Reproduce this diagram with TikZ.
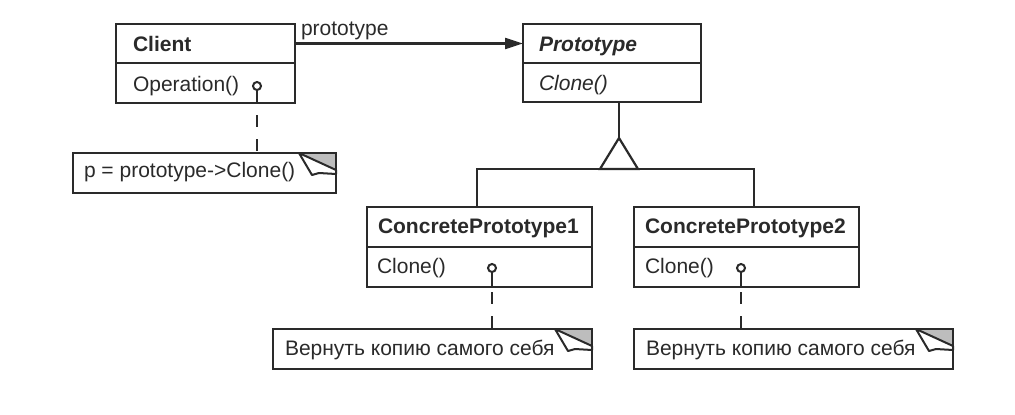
\documentclass[tikz,border=0pt]{standalone}
\usepackage{fontspec}
\setmainfont{Liberation Sans}
\usetikzlibrary{arrows.meta}
\definecolor{ink}{HTML}{2A2A2A}
\definecolor{foldgrey}{HTML}{BDBDBD}
\newcommand\notefold[1]{%
  \fill[foldgrey] ([xshift=-36pt]#1.north east) -- (#1.north east) -- ([yshift=-17pt]#1.north east) -- cycle;
  \filldraw[fill=white, draw=ink, line width=2pt, line join=round]
    ([xshift=-37pt]#1.north east) -- ([xshift=-24pt,yshift=-22pt]#1.north east)
    -- ([xshift=-17pt,yshift=-20pt]#1.north east) -- ([yshift=-21pt]#1.north east)
    -- ([yshift=-17pt]#1.north east) -- cycle;
  \draw[ink, line width=2.2pt] (#1.south west) rectangle (#1.north east);
}
\begin{document}
\begin{tikzpicture}[x=1pt,y=-1pt, line width=2.2pt, draw=ink,
  box/.style={draw=ink, fill=white, line width=2.2pt, outer sep=0pt, inner sep=0pt, rectangle, anchor=north west},
  txt/.style={anchor=base west, inner sep=0pt, outer sep=0pt, font=\fontsize{21}{25}\selectfont, text=ink},
  dot/.style={circle, draw=ink, fill=white, line width=2pt, minimum size=8pt, inner sep=0pt, outer sep=0pt},
  conn/.style={draw=ink, line width=2.2pt},
  dashconn/.style={draw=ink, line width=2.2pt, dash pattern=on 12pt off 12pt}]
\useasboundingbox (0,0) rectangle (1015,415);

% Client
\node[box, minimum width=179pt, minimum height=39pt] (clientN) at (116,24) {};
\node[box, minimum width=179pt, minimum height=40pt] (clientO) at (116,63) {};
\node[txt, font=\fontsize{21}{25}\selectfont\bfseries] (clientT) at (133,51) {Client};
\node[txt] (clientOp) at (133,91) {Operation()};

% Prototype
\node[box, minimum width=178pt, minimum height=39pt] (protoN) at (523,24) {};
\node[box, minimum width=178pt, minimum height=39pt] (protoO) at (523,63) {};
\node[txt, font=\fontsize{21}{25}\selectfont\bfseries\itshape] (protoT) at (539,51) {Prototype};
\node[txt, font=\fontsize{21}{25}\selectfont\itshape] (protoOp) at (539,90) {Clone()};

% ConcretePrototype1
\node[box, minimum width=225pt, minimum height=40pt] (cp1N) at (367,207) {};
\node[box, minimum width=225pt, minimum height=40pt] (cp1O) at (367,247) {};
\node[txt, font=\fontsize{21}{25}\selectfont\bfseries] (cp1T) at (378,233) {ConcretePrototype1};
\node[txt] (cp1Op) at (377,273) {Clone()};

% ConcretePrototype2
\node[box, minimum width=225pt, minimum height=40pt] (cp2N) at (634,207) {};
\node[box, minimum width=225pt, minimum height=40pt] (cp2O) at (634,247) {};
\node[txt, font=\fontsize{21}{25}\selectfont\bfseries] (cp2T) at (645,233) {ConcretePrototype2};
\node[txt] (cp2Op) at (645,273) {Clone()};

% Notes
\node[box, minimum width=263pt, minimum height=40pt] (note0) at (73,153) {};
\notefold{note0}
\node[txt] (note0T) at (84,177) {p = prototype->Clone()};

\node[box, minimum width=319pt, minimum height=40pt] (note1) at (273,329) {};
\notefold{note1}
\node[txt] (note1T) at (285,355) {Вернуть копию самого себя};

\node[box, minimum width=319pt, minimum height=40pt] (note2) at (634,329) {};
\notefold{note2}
\node[txt] (note2T) at (646,355) {Вернуть копию самого себя};

% association
\draw[conn, -{Triangle[length=18pt, width=11pt]}] (clientN.east) -- (protoN.west);
\node[txt] (assocL) at (301,35) {prototype};

% note links
\node[dot] (c0) at (257,86) {};
\draw[conn] (c0.south) -- (c0 |- clientO.south);
\draw[dashconn, dash phase=12pt] (c0 |- clientO.south) -- (c0 |- note0.north);

\node[dot] (c1) at (492,268) {};
\draw[conn] (c1.south) -- (c1 |- cp1O.south);
\draw[dashconn, dash phase=19pt] (c1 |- cp1O.south) -- (c1 |- note1.north);

\node[dot] (c2) at (741,268) {};
\draw[conn] (c2.south) -- (c2 |- cp2O.south);
\draw[dashconn, dash phase=19pt] (c2 |- cp2O.south) -- (c2 |- note2.north);

% inheritance
\coordinate (apex) at (619,138);
\coordinate (tL) at (600,169);
\coordinate (tR) at (638,169);
\coordinate (j1) at (477,169);
\coordinate (j2) at (754,169);
\draw[conn] (apex |- protoO.south) -- (apex);
\draw[conn, line join=miter] (apex) -- (tL) -- (tR) -- cycle;
\draw[conn] (j1 |- cp1N.north) -- (j1) -- (j2) -- (j2 |- cp2N.north);
\end{tikzpicture}
\end{document}
